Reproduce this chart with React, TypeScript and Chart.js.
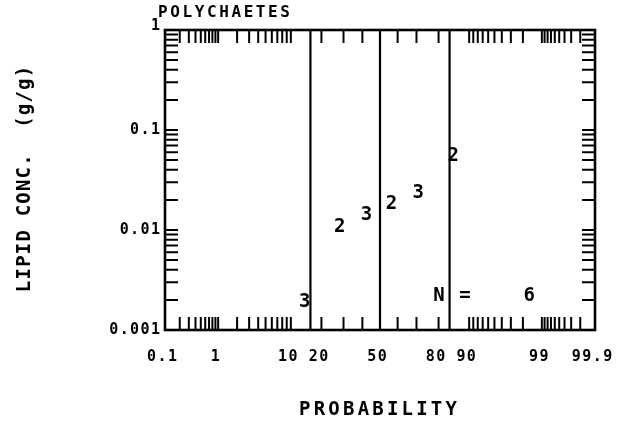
import React, { useEffect, useRef } from "react";
import { Chart, registerables } from "chart.js";

Chart.register(...registerables);

// ---- data ----
const chartTitle = "POLYCHAETES";
const xTitle = "PROBABILITY";
const yTitle = "LIPID CONC.  (g/g)";

const xTickProbs = [0.1, 1, 10, 20, 50, 80, 90, 99, 99.9];
const xTickLabels = ["0.1", "1", "10", "20", "50", "80", "90", "99", "99.9"];
const xMinorProbs = [
  0.2, 0.3, 0.4, 0.5, 0.6, 0.7, 0.8, 0.9,
  1, 2, 3, 4, 5, 6, 7, 8, 9,
  10, 20, 30, 40, 60, 70, 80,
  90, 91, 92, 93, 94, 95, 96, 97, 98,
  99, 99.1, 99.2, 99.3, 99.4, 99.5, 99.6, 99.7, 99.8,
];

const yTickValues = [1, 0.1, 0.01, 0.001];
const yTickLabels = ["1", "0.1", "0.01", "0.001"];
const yDecades = [0.001, 0.01, 0.1];
const yMinorMultipliers = [1, 2, 3, 4, 5, 6, 7, 8, 9];

const refLineProbs = [15.87, 50, 84.13];

const pointProbs = [14.3, 28.6, 42.9, 57.1, 71.4, 85.7];
const pointValues = [0.0019, 0.0106, 0.0141, 0.0182, 0.0234, 0.0543];
const pointSymbols = ["3", "2", "3", "2", "3", "2"];

const noteParts = ["N", "=", "6"];
const noteProbs = [80.2, 88.9, 98.4];
const noteValue = 0.0022;

// ---- probability (normal quantile) transform ----
function probit(p: number): number {
  const a = [-3.969683028665376e1, 2.209460984245205e2, -2.759285104469687e2, 1.38357751867269e2, -3.066479806614716e1, 2.506628277459239];
  const b = [-5.447609879822406e1, 1.615858368580409e2, -1.556989798598866e2, 6.680131188771972e1, -1.328068155288572e1];
  const c = [-7.784894002430293e-3, -3.223964580411365e-1, -2.400758277161838, -2.549732539343734, 4.374664141464968, 2.938163982698783];
  const d = [7.784695709041462e-3, 3.224671290700398e-1, 2.445134137142996, 3.754408661907416];
  const pl = 0.02425;
  const ph = 1 - pl;
  let q: number, r: number;
  if (p < pl) {
    q = Math.sqrt(-2 * Math.log(p));
    return (((((c[0] * q + c[1]) * q + c[2]) * q + c[3]) * q + c[4]) * q + c[5]) /
      ((((d[0] * q + d[1]) * q + d[2]) * q + d[3]) * q + 1);
  }
  if (p <= ph) {
    q = p - 0.5;
    r = q * q;
    return ((((((a[0] * r + a[1]) * r + a[2]) * r + a[3]) * r + a[4]) * r + a[5]) * q) /
      (((((b[0] * r + b[1]) * r + b[2]) * r + b[3]) * r + b[4]) * r + 1);
  }
  q = Math.sqrt(-2 * Math.log(1 - p));
  return -(((((c[0] * q + c[1]) * q + c[2]) * q + c[3]) * q + c[4]) * q + c[5]) /
    ((((d[0] * q + d[1]) * q + d[2]) * q + d[3]) * q + 1);
}
const z = (pct: number) => probit(pct / 100);

const MONO = '"DejaVu Sans Mono", monospace';

function drawSpaced(
  ctx: CanvasRenderingContext2D,
  text: string,
  x: number,
  y: number,
  ls: number,
  align: "left" | "center" | "right"
) {
  (ctx as any).letterSpacing = "0px";
  const w0 = ctx.measureText(text).width;
  const w = w0 + ls * (text.length - 1);
  const sx = align === "left" ? x : align === "center" ? x - w / 2 : x - w;
  ctx.textAlign = "left";
  (ctx as any).letterSpacing = ls + "px";
  ctx.fillText(text, sx, y);
  (ctx as any).letterSpacing = "0px";
}

const POINT_DS = refLineProbs.length;

const framePlugin = {
  id: "probFrame",
  afterDatasetsDraw(chart: any) {
    const { ctx, chartArea: a, scales } = chart;
    const xs = scales.x;
    const ys = scales.y;
    const TL = 13;
    ctx.save();
    ctx.strokeStyle = "#000";
    ctx.fillStyle = "#000";

    // inward ticks
    ctx.lineWidth = 2;
    ctx.beginPath();
    for (const p of xMinorProbs) {
      const px = xs.getPixelForValue(z(p));
      ctx.moveTo(px, a.bottom);
      ctx.lineTo(px, a.bottom - TL);
      ctx.moveTo(px, a.top);
      ctx.lineTo(px, a.top + TL);
    }
    for (const dec of yDecades) {
      for (const m of yMinorMultipliers) {
        const v = dec * m;
        if (v <= 0.001 || v >= 1) continue;
        const py = ys.getPixelForValue(v);
        ctx.moveTo(a.left, py);
        ctx.lineTo(a.left + TL, py);
        ctx.moveTo(a.right, py);
        ctx.lineTo(a.right - TL, py);
      }
    }
    ctx.stroke();

    // frame
    ctx.lineWidth = 2.6;
    ctx.strokeRect(a.left, a.top, a.right - a.left, a.bottom - a.top);

    // x tick labels
    ctx.textBaseline = "middle";
    ctx.font = `bold 15px ${MONO}`;
    xTickProbs.forEach((p, i) => {
      const px = xs.getPixelForValue(z(p));
      drawSpaced(ctx, xTickLabels[i], px - 3, a.bottom + 27, 1.4, "center");
    });

    // y tick labels
    yTickValues.forEach((v, i) => {
      const py = ys.getPixelForValue(v);
      const yy = v === 1 ? py - 4 : py;
      drawSpaced(ctx, yTickLabels[i], a.left - 5, yy, 1.4, "right");
    });

    // chart title
    ctx.font = `bold 16px ${MONO}`;
    drawSpaced(ctx, chartTitle, a.left - 7, 13, 2.6, "left");

    // axis titles
    ctx.font = `bold 19px ${MONO}`;
    drawSpaced(ctx, xTitle, (a.left + a.right) / 2 - 2, 410, 3.2, "center");
    ctx.save();
    ctx.translate(25, 179);
    ctx.rotate(-Math.PI / 2);
    drawSpaced(ctx, yTitle, 0, 0, 1.2, "center");
    ctx.restore();

    // point symbols
    ctx.font = `bold 19px ${MONO}`;
    const meta = chart.getDatasetMeta(POINT_DS);
    meta.data.forEach((el: any, i: number) => {
      drawSpaced(ctx, pointSymbols[i], el.x - 1, el.y, 0, "center");
    });

    // N = 6 note
    const ny = ys.getPixelForValue(noteValue);
    noteParts.forEach((t, i) => {
      const nx = xs.getPixelForValue(z(noteProbs[i]));
      drawSpaced(ctx, t, nx, ny, 0, "center");
    });

    ctx.restore();
  },
};

export default function App() {
  const ref = useRef<HTMLCanvasElement>(null);

  useEffect(() => {
    if (!ref.current) return;
    const lineSets = refLineProbs.map((p) => ({
      type: "line" as const,
      data: [
        { x: z(p), y: 0.001 },
        { x: z(p), y: 1 },
      ],
      borderColor: "#000",
      borderWidth: 2.2,
      pointRadius: 0,
      showLine: true,
      fill: false,
    }));
    const chart = new Chart(ref.current, {
      type: "scatter",
      data: {
        datasets: [
          ...lineSets,
          {
            type: "scatter" as const,
            data: pointProbs.map((p, i) => ({ x: z(p), y: pointValues[i] })),
            pointRadius: 0,
            showLine: false,
            borderColor: "#000",
            backgroundColor: "#000",
          },
        ] as any,
      },
      options: {
        animation: false,
        responsive: false,
        maintainAspectRatio: false,
        layout: { padding: { left: 165, top: 30, right: 28, bottom: 97 } },
        plugins: { legend: { display: false }, tooltip: { enabled: false } },
        scales: {
          x: { type: "linear", display: false, min: z(0.1), max: z(99.9) },
          y: { type: "logarithmic", display: false, min: 0.001, max: 1 },
        },
      },
      plugins: [framePlugin],
    });
    return () => chart.destroy();
  }, []);

  return (
    <div style={{ position: "absolute", left: 0, top: 0, width: 623, height: 427, background: "#fff" }}>
      <canvas ref={ref} width={623} height={427} style={{ display: "block" }} />
    </div>
  );
}
